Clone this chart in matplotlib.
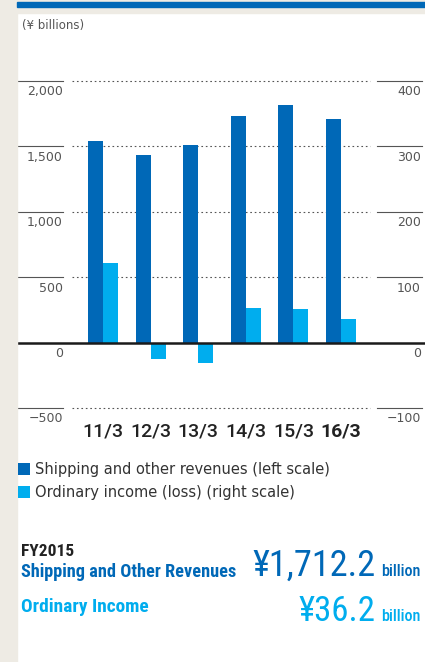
import matplotlib
matplotlib.use("Agg")
import matplotlib.pyplot as plt
from matplotlib import font_manager, transforms
from matplotlib.patches import Rectangle

# data
years = ["11/3", "12/3", "13/3", "14/3", "15/3", "16/3"]
revenues = [1543.7, 1435.2, 1509.2, 1729.5, 1817.0, 1712.2]     # left scale
ordinary_income = [121.8, -25.4, -30.5, 53.7, 51.0, 36.2]       # right scale
left_ticks = [-500, 0, 500, 1000, 1500, 2000]
right_ticks = [-100, 0, 100, 200, 300, 400]

DARK = "#0068B7"
LIGHT = "#00ADEE"
BEIGE = "#EEEBE4"
GRAY = "#555555"

names = {f.name for f in font_manager.fontManager.ttflist}
NARROW = "Roboto Condensed" if "Roboto Condensed" in names else "Roboto"
plt.rcParams["font.family"] = ["DejaVu Sans"]

W, H = 425, 662
fig = plt.figure(figsize=(W / 100, H / 100), dpi=100)
fig.patch.set_facecolor("white")

# background strips
fig.patches.append(Rectangle((0, 0), 17 / W, 1, transform=fig.transFigure, color=BEIGE, zorder=0))
fig.patches.append(Rectangle((0, 1 - 13 / H), 1, 13 / H, transform=fig.transFigure, color=BEIGE, zorder=0))
fig.patches.append(Rectangle((17 / W, 1 - 6.8 / H), 1, 5.2 / H, transform=fig.transFigure, color=DARK, zorder=1))

# axes
ax = fig.add_axes([17 / W, 1 - 408.3 / H, 408 / W, (408.3 - 81) / H])
ax2 = ax.twinx()
for a in (ax, ax2):
    a.set_facecolor("none")
    for s in a.spines.values():
        s.set_visible(False)
    a.set_yticks([])
ax.set_ylim(-500, 2000)
ax2.set_ylim(-100, 400)
ax.set_xlim(-1.807, 6.765)

x = list(range(len(years)))
bw = 0.315
ax.bar([i - bw / 2 for i in x], revenues, width=bw, color=DARK, zorder=3,
       label="Shipping and other revenues (left scale)")
ax2.bar([i + bw / 2 for i in x], ordinary_income, width=bw, color=LIGHT, zorder=3,
        label="Ordinary income (loss) (right scale)")

# grid segments
for t in left_ticks:
    if t == 0:
        continue
    ax.axhline(t, xmin=0, xmax=0.1127, color=GRAY, lw=0.8, clip_on=False)
    ax.axhline(t, xmin=0.1348, xmax=0.8652, color=GRAY, lw=0.8, ls=(0, (1.5, 2.5)), clip_on=False)
    ax.axhline(t, xmin=0.8824, xmax=0.9926, color=GRAY, lw=0.8, clip_on=False)
ax2.axhline(0, color="#1a1a1a", lw=1.8, zorder=5)

# tick labels under each line
off = transforms.offset_copy(ax.get_yaxis_transform(), fig=fig, x=0, y=-10.7 * 0.72, units="points")
off2 = transforms.offset_copy(ax2.get_yaxis_transform(), fig=fig, x=0, y=-10.7 * 0.72, units="points")
for t in left_ticks:
    ax.text(0.1127, t, f"{t:,}".replace("-", "\u2212"), transform=off, ha="right", va="center",
            fontsize=9, color=GRAY)
for t in right_ticks:
    ax2.text(0.990, t, f"{t:,}".replace("-", "\u2212"), transform=off2, ha="right", va="center",
             fontsize=9, color=GRAY)

ax.set_xticks(x)
ax.set_xticklabels(years, fontsize=14, color="#222222", fontfamily="Roboto", fontweight="medium")
ax.get_xticklabels()[-1].set_fontweight("bold")
ax.tick_params(axis="x", length=0, pad=10)

fig.text(22 / W, 1 - 25 / H, "(\u00a5 billions)", fontsize=8.5, color=GRAY, va="center")

# legend
h1, l1 = ax.get_legend_handles_labels()
h2, l2 = ax2.get_legend_handles_labels()
fig.legend(h1 + h2, l1 + l2, loc="upper left", bbox_to_anchor=(18 / W, 1 - 462 / H),
           frameon=False, fontsize=10.5, handlelength=0.8, handleheight=0.8,
           handletextpad=0.35, labelspacing=0.55, borderpad=0, borderaxespad=0,
           labelcolor="#333333")

# FY2015 summary
t_fy = fig.text(21 / W, 1 - 552 / H, "FY2015", fontsize=11, fontweight="bold", color="#222222",
                va="center", fontfamily=NARROW)
t_rev = fig.text(21 / W, 1 - 572 / H, "Shipping and Other Revenues", fontsize=11, fontweight="bold",
                 color=DARK, va="center", fontfamily=NARROW)
t_oi = fig.text(21 / W, 1 - 607 / H, "Ordinary Income", fontsize=11, fontweight="bold",
                color=LIGHT, va="center", fontfamily=NARROW)
v_rev = fig.text(376 / W, 1 - 576 / H, "\u00a51,712.2", fontsize=26, color=DARK, ha="right",
                 va="baseline", fontfamily=NARROW)
b_rev = fig.text(381 / W, 1 - 576 / H, "billion", fontsize=11, color=DARK, ha="left",
                 va="baseline", fontfamily=NARROW, fontweight="medium")
v_oi = fig.text(376 / W, 1 - 621 / H, "\u00a536.2", fontsize=26, color=LIGHT, ha="right",
                va="baseline", fontfamily=NARROW)
b_oi = fig.text(381 / W, 1 - 621 / H, "billion", fontsize=11, color=LIGHT, ha="left",
                va="baseline", fontfamily=NARROW, fontweight="medium")

# scale the summary texts to the widths they take in the reference
renderer = fig.canvas.get_renderer()
for txt, width in [(t_fy, 53), (t_rev, 215), (t_oi, 127), (v_rev, 123),
                   (b_rev, 40), (v_oi, 77), (b_oi, 40)]:
    bb = txt.get_window_extent(renderer)
    txt.set_fontsize(txt.get_fontsize() * width / bb.width)

fig.savefig("out.png", dpi=100)
